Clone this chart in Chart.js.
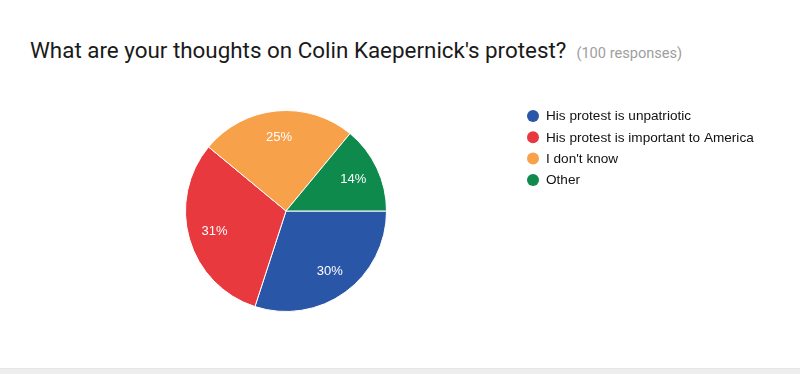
<!DOCTYPE html>
<html>
<head>
<meta charset="utf-8">
<script src="https://cdn.jsdelivr.net/npm/chart.js@4.4.1/dist/chart.umd.min.js"></script>
<style>
  html, body { margin: 0; padding: 0; background: #fff; }
  #wrap { position: relative; width: 800px; height: 374px; overflow: hidden; }
  #title { position: absolute; left: 30px; top: 37px; font-family: Roboto, sans-serif; font-size: 22.4px; color: #1a1a1a; white-space: nowrap; }
  #title span { font-size: 14.6px; color: #9e9e9e; margin-left: 10px; }
  #foot { position: absolute; left: 0; right: 0; bottom: 0; height: 5px; background: #eeeeee; border-top: 1px solid #e6e6e6; }
  canvas { position: absolute; left: 0; top: 0; }
</style>
</head>
<body>
<div id="wrap">
  <div id="title">What are your thoughts on Colin Kaepernick's protest?<span>(100 responses)</span></div>
  <canvas id="chartjs_pie" width="800" height="374"></canvas>
  <div id="foot"></div>
</div>
<script>
'use strict';

var labels = ["His protest is unpatriotic", "His protest is important to America", "I don't know", "Other"];
var responses = [30, 31, 25, 14];
var colors = ["#2a56a8", "#e8393e", "#f7a14b", "#0e8a4d"];

// percent labels inside each slice
var sliceLabels = {
    id: 'sliceLabels',
    afterDatasetsDraw: function(chart) {
        var ctx = chart.ctx;
        var meta = chart.getDatasetMeta(0);
        var total = responses.reduce(function(a, b) { return a + b; }, 0);
        ctx.save();
        ctx.fillStyle = '#ffffff';
        ctx.font = '13px "Liberation Sans", Arial, sans-serif';
        ctx.textAlign = 'center';
        ctx.textBaseline = 'middle';
        meta.data.forEach(function(arc, i) {
            var p = arc.getProps(['x', 'y', 'startAngle', 'endAngle', 'outerRadius']);
            var mid = (p.startAngle + p.endAngle) / 2;
            var r = p.outerRadius * 0.74;
            var pct = Math.round(responses[i] / total * 100) + '%';
            ctx.fillText(pct, p.x + Math.cos(mid) * r, p.y + Math.sin(mid) * r);
        });
        ctx.restore();
    }
};

// legend with round markers on the right
var sideLegend = {
    id: 'sideLegend',
    afterDraw: function(chart) {
        var ctx = chart.ctx;
        var x = 533, y = 116, step = 21.3;
        ctx.save();
        ctx.font = '13.6px "Liberation Sans", Arial, sans-serif';
        ctx.textBaseline = 'middle';
        chart.data.labels.forEach(function(lab, i) {
            var yy = y + i * step;
            ctx.beginPath();
            ctx.arc(x, yy, 6, 0, Math.PI * 2);
            ctx.fillStyle = colors[i];
            ctx.fill();
            ctx.fillStyle = '#111111';
            ctx.fillText(lab, x + 13, yy + 0.5);
        });
        ctx.restore();
    }
};

var ctx = document.getElementById("chartjs_pie").getContext("2d");
window.myPie = new Chart(ctx, {
    type: 'pie',
    data: {
        labels: labels,
        datasets: [{
            data: responses,
            backgroundColor: colors,
            borderColor: '#ffffff',
            borderWidth: 1
        }]
    },
    options: {
        responsive: false,
        animation: false,
        rotation: 90,
        layout: { padding: { left: 185, right: 413, top: 110, bottom: 62 } },
        plugins: {
            legend: { display: false },
            tooltip: { enabled: false }
        }
    },
    plugins: [sliceLabels, sideLegend]
});
</script>
</body>
</html>
